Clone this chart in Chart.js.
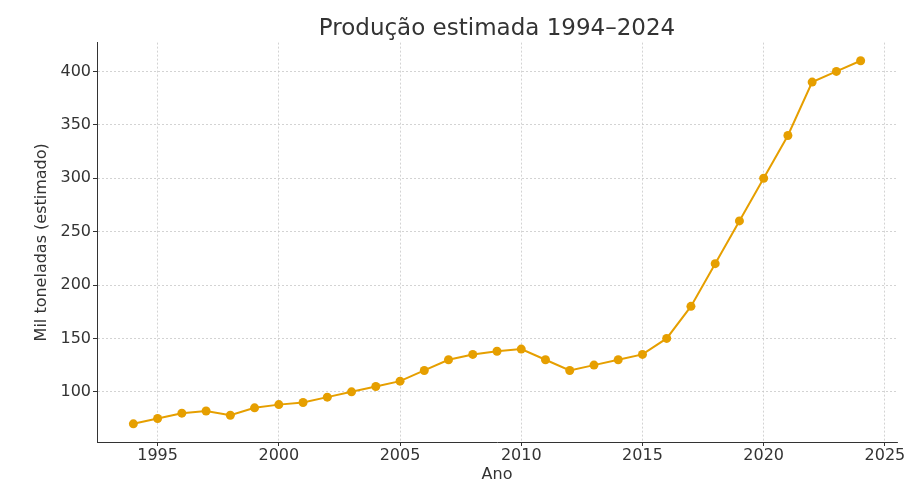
<!DOCTYPE html>
<html>
<head>
<meta charset="utf-8">
<script src="https://cdn.jsdelivr.net/npm/chart.js@4"></script>
<style>
  html, body { margin: 0; padding: 0; background: #fff; }
  #wrap { width: 909px; height: 484px; }
</style>
</head>
<body>
<div id="wrap"><canvas id="chart" width="909" height="484"></canvas></div>
<script>
// dados
const anos = [1994, 1995, 1996, 1997, 1998, 1999, 2000, 2001, 2002, 2003, 2004,
              2005, 2006, 2007, 2008, 2009, 2010, 2011, 2012, 2013, 2014,
              2015, 2016, 2017, 2018, 2019, 2020, 2021, 2022, 2023, 2024];
const producao = [70, 75, 80, 82, 78, 85, 88, 90, 95, 100, 105,
                  110, 120, 130, 135, 138, 140, 130, 120, 125, 130,
                  135, 150, 180, 220, 260, 300, 340, 390, 400, 410];
const ticksX = [1995, 2000, 2005, 2010, 2015, 2020, 2025];
const ticksY = [100, 150, 200, 250, 300, 350, 400];

const cor = '#E69F00';
const fonte = "'DejaVu Sans', sans-serif";
const cinza = '#333333';

const gridCfg = {
    color: '#c8c8c8',
    lineWidth: 0.8,
    tickColor: cinza,
    tickLength: 4,
    tickBorderDash: [],
    tickWidth: 1
};
const borderCfg = { display: true, color: cinza, width: 1, dash: [2, 2] };

new Chart(document.getElementById('chart').getContext('2d'), {
    type: 'line',
    data: {
        datasets: [{
            data: anos.map((a, i) => ({ x: a, y: producao[i] })),
            borderColor: cor,
            backgroundColor: cor,
            borderWidth: 2,
            pointRadius: 4.5,
            pointBorderWidth: 0,
            tension: 0
        }]
    },
    options: {
        responsive: false,
        animation: false,
        layout: { padding: { left: 0, right: 12, top: 0, bottom: 0 } },
        plugins: {
            legend: { display: false },
            tooltip: { enabled: false },
            title: {
                display: true,
                fullSize: false,   // centraliza sobre a área do gráfico
                text: 'Produção estimada 1994–2024',
                color: cinza,
                font: { family: fonte, size: 23, weight: 'normal' },
                padding: { top: 15, bottom: 0 }
            }
        },
        scales: {
            x: {
                type: 'linear',
                min: 1992.5,
                max: 2025.5,
                afterBuildTicks: s => { s.ticks = ticksX.map(v => ({ value: v })); },
                afterFit: s => { s.height = 42; },
                ticks: {
                    color: cinza,
                    font: { family: fonte, size: 16 },
                    padding: 0,
                    maxRotation: 0,
                    callback: v => String(v)
                },
                grid: gridCfg,
                border: borderCfg,
                title: {
                    display: true,
                    text: 'Ano',
                    color: cinza,
                    font: { family: fonte, size: 16 },
                    padding: { top: 0, bottom: 0 }
                }
            },
            y: {
                min: 53,
                max: 427,
                afterBuildTicks: s => { s.ticks = ticksY.map(v => ({ value: v })); },
                afterFit: s => { s.width = 97; },
                ticks: {
                    color: cinza,
                    font: { family: fonte, size: 16 },
                    padding: 2
                },
                grid: gridCfg,
                border: borderCfg,
                title: {
                    display: true,
                    text: 'Mil toneladas (estimado)',
                    color: cinza,
                    font: { family: fonte, size: 16 },
                    padding: { top: 32, bottom: 0 }
                }
            }
        }
    }
});
</script>
</body>
</html>
